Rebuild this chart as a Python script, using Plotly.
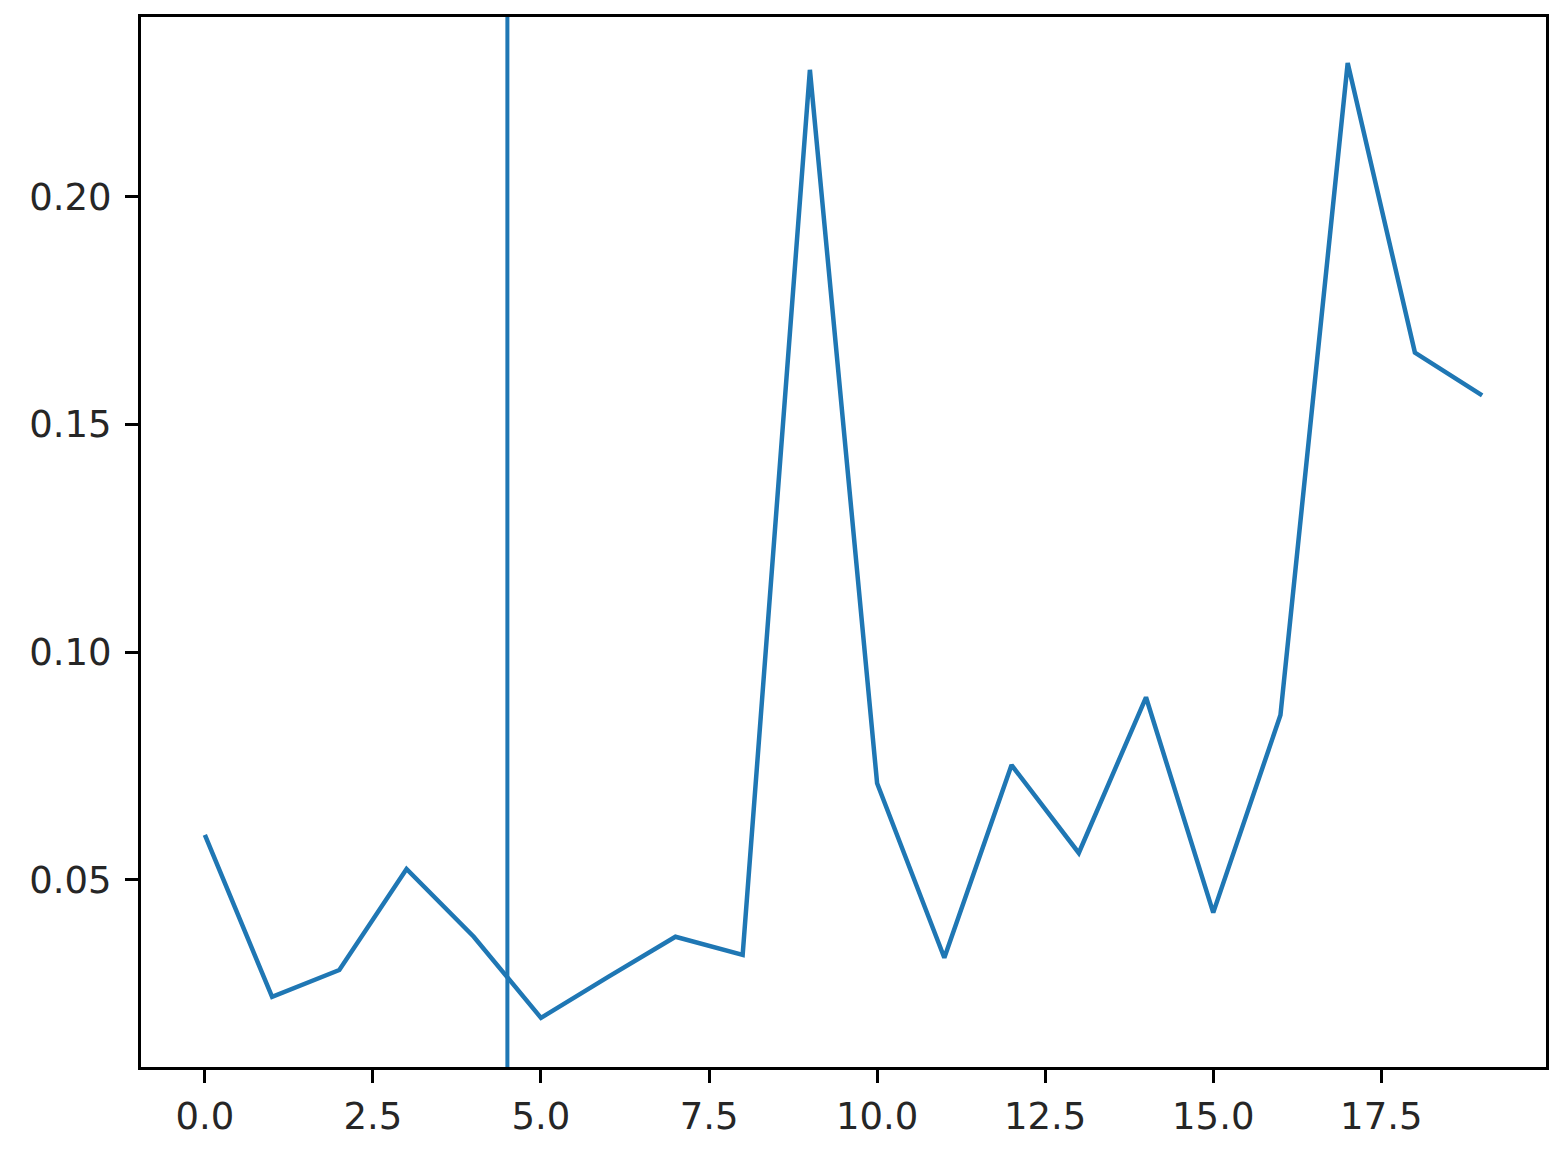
import plotly.graph_objects as go

# values
steps = list(range(20))
values = [0.0599, 0.0243, 0.0302, 0.0524, 0.0375, 0.0197, 0.0287, 0.0375, 0.0335, 0.2279,
          0.0712, 0.0329, 0.0752, 0.0559, 0.0901, 0.0428, 0.0862, 0.2294, 0.1658, 0.1564]
split_at = 4.5

x_ticks = [0, 2.5, 5, 7.5, 10, 12.5, 15, 17.5]
x_labels = ["0.0", "2.5", "5.0", "7.5", "10.0", "12.5", "15.0", "17.5"]
y_ticks = [0.05, 0.10, 0.15, 0.20]
y_labels = ["0.05", "0.10", "0.15", "0.20"]

blue = "#1f77b4"

fig = go.Figure()
fig.add_trace(go.Scatter(x=steps, y=values, mode="lines",
                         line=dict(color=blue, width=4.5), showlegend=False))

# vertical marker line over the full height of the plot
fig.add_vline(x=split_at, line=dict(color=blue, width=4))

axis_style = dict(showline=True, linecolor="black", linewidth=3, mirror=True,
                  showgrid=False, zeroline=False, ticks="outside", ticklen=13,
                  tickwidth=2.5, tickcolor="black",
                  tickfont=dict(family="DejaVu Sans", size=37, color="#262626"))

fig.update_xaxes(range=[-0.95, 19.95], tickvals=x_ticks, ticktext=x_labels,
                 ticklabelstandoff=2, **axis_style)
fig.update_yaxes(range=[0.0089, 0.2395], tickvals=y_ticks, ticktext=y_labels,
                 ticklabelstandoff=6, **axis_style)

fig.update_layout(width=1553, height=1150,
                  margin=dict(l=141, r=4, t=17, b=83),
                  plot_bgcolor="white", paper_bgcolor="white")

# drop the page's default body margin so the figure sits at the corner
fig.write_html("out.html", config={"displayModeBar": False},
               post_script="document.body.style.margin='0';")
